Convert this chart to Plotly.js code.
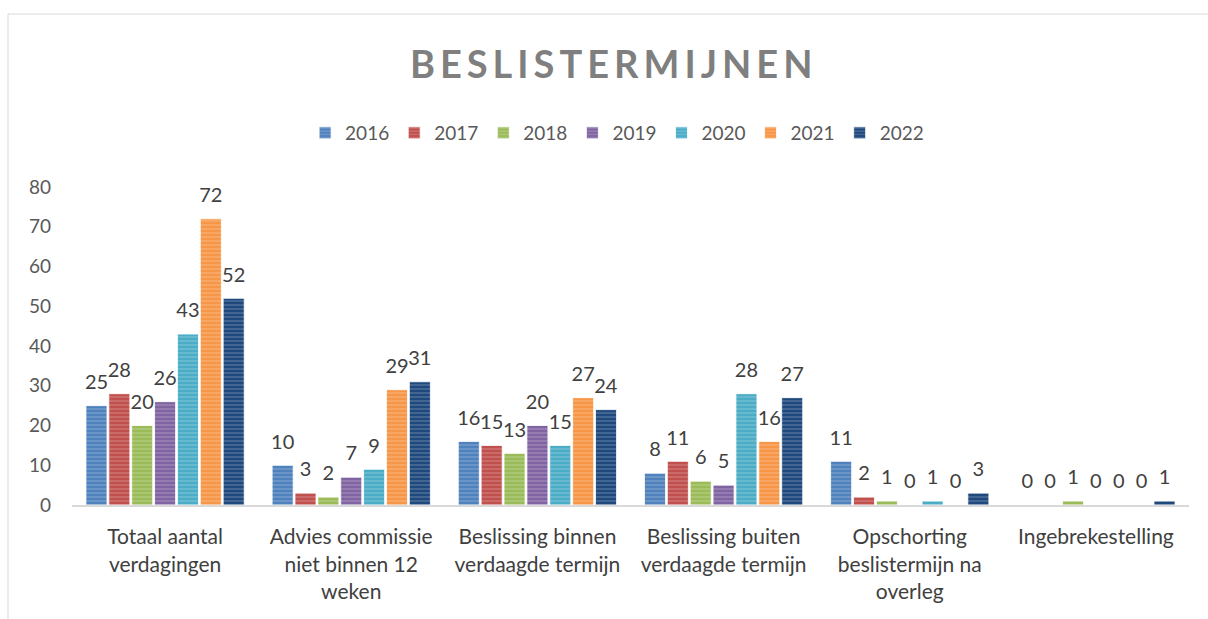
<!DOCTYPE html>
<html><head><meta charset="utf-8">
<script src="https://cdn.plot.ly/plotly-3.0.1.min.js"></script>
<style>body{margin:0;} .gtitle{letter-spacing:5px;}</style>
</head><body>
<div id="chart" style="width:1208px;height:619px;"></div>
<script>
const categories = ["Totaal aantal<br>verdagingen", "Advies commissie<br>niet binnen 12<br>weken", "Beslissing binnen<br>verdaagde termijn", "Beslissing buiten<br>verdaagde termijn", "Opschorting<br>beslistermijn na<br>overleg", "Ingebrekestelling"];
const years = ["2016","2017","2018","2019","2020","2021","2022"];
const v2016 = [25, 10, 16, 8, 11, 0];
const v2017 = [28, 3, 15, 11, 2, 0];
const v2018 = [20, 2, 13, 6, 1, 1];
const v2019 = [26, 7, 20, 5, 0, 0];
const v2020 = [43, 9, 15, 28, 1, 0];
const v2021 = [72, 29, 27, 16, 0, 0];
const v2022 = [52, 31, 24, 27, 3, 1];
const seriesValues = [v2016, v2017, v2018, v2019, v2020, v2021, v2022];
const colors = ["#4F81BD","#C0504D","#9BBB59","#8064A2","#4BACC6","#F79646","#1F497D"];

const font = "Lato, 'Open Sans', sans-serif";
const traces = years.map((y, i) => ({
  type: 'bar', name: y, x: categories, y: seriesValues[i],
  text: seriesValues[i].map(v => "<span style='font-size:20px'>" + v + "</span><br>\u00a0"),
  textposition: 'outside', cliponaxis: false,
  constraintext: 'none',
  textfont: {family: font, size: 9, color: '#404040'},
  marker: {color: colors[i], line: {color: 'rgba(255,255,255,0.8)', width: 1},
    pattern: {shape: '-', fillmode: 'overlay', fgcolor: 'rgba(255,255,255,0.45)', size: 4, solidity: 0.35}},
  hoverinfo: 'none'
}));

const layout = {
  width: 1208, height: 619,
  margin: {l: 72, r: 19, t: 187, b: 114},
  paper_bgcolor: '#fff', plot_bgcolor: '#fff',
  font: {family: font, color: '#595959'},
  title: {text: '<b>BESLISTERMIJNEN</b>', x: 0.508, xanchor: 'center', y: 0.895, yanchor: 'middle',
    font: {family: font, size: 38, color: '#7f7f7f'}},
  barmode: 'group', bargap: 0.14, bargroupgap: 0.08,
  showlegend: true,
  legend: {orientation: 'h', x: 0.488, xanchor: 'center', y: 1.17, yanchor: 'middle',
    font: {family: font, size: 19, color: '#595959'}, itemwidth: 30, traceorder: 'normal'},
  xaxis: {showline: true, linecolor: '#d9d9d9', linewidth: 2, ticks: '', showgrid: false,
    tickfont: {family: font, size: 21, color: '#404040'}, ticklabelstandoff: 12, automargin: false},
  yaxis: {range: [0, 80], dtick: 10, showgrid: false, zeroline: false, showline: false,
    tickfont: {family: font, size: 19, color: '#595959'}, ticklabelstandoff: 20, automargin: false},
  shapes: [{type: 'rect', xref: 'paper', yref: 'paper',
    x0: (8-72)/1117, x1: (1215-72)/1117, y0: (505-625)/318, y1: (505-14)/318,
    line: {color: '#d9d9d9', width: 1}, fillcolor: 'rgba(0,0,0,0)', layer: 'below'}]
};
Plotly.newPlot('chart', traces, layout, {displayModeBar: false, staticPlot: true});
</script>
</body></html>
